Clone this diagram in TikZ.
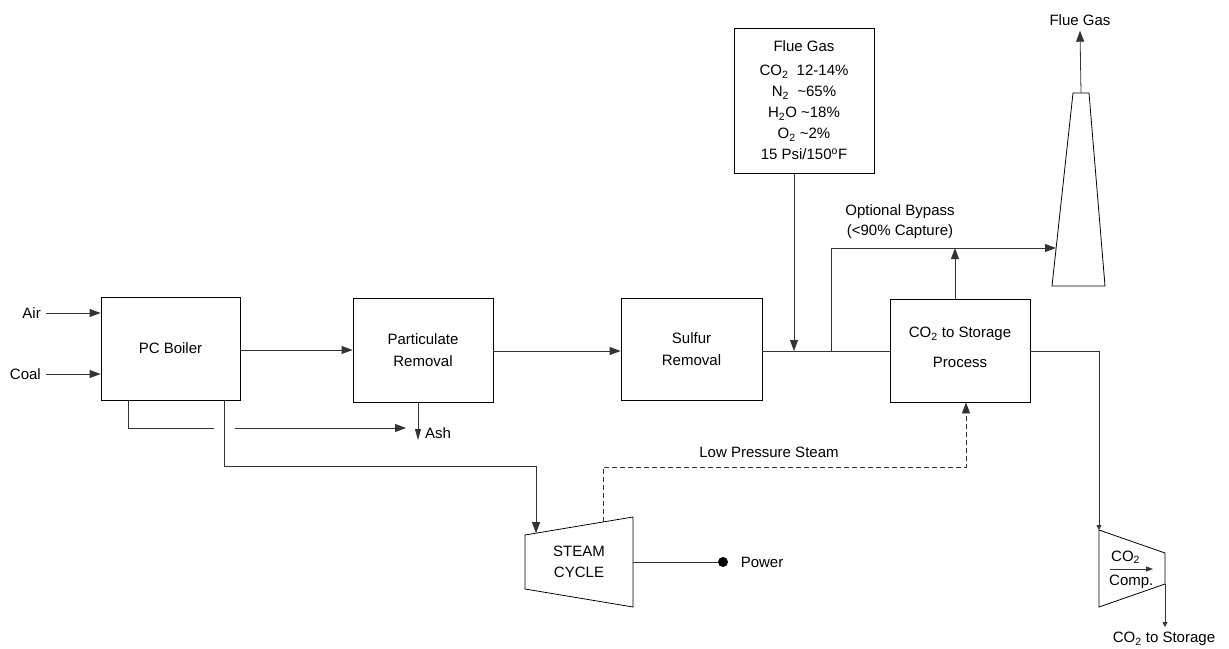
\documentclass[tikz,border=0pt]{standalone}
\usepackage{fontspec}
\setmainfont{Liberation Sans}
\usetikzlibrary{arrows.meta}
\begin{document}
\begin{tikzpicture}[x=1pt,y=-1pt,
  font=\fontsize{15}{20}\selectfont,
  box/.style={draw=black, line width=0.8pt, align=center, inner sep=0pt},
  ln/.style={line width=0.8pt, draw=black!80},
  arr/.style={ln, -{Triangle[length=11pt,width=8pt]}},
  sarr/.style={ln, -{Triangle[length=5pt,width=5pt]}},
  dsh/.style={ln, dashed, dash pattern=on 5pt off 3pt, -{Triangle[length=11pt,width=8pt]}},
  shp/.style={draw=black, line width=0.8pt},
  lbl/.style={inner sep=1pt, align=center}]
\useasboundingbox (0,0) rectangle (1229,648);

% boxes
\node[box, minimum width=139pt, minimum height=103pt] (boiler) at (170.5,348.5) {PC Boiler};
\node[box, minimum width=140pt, minimum height=104pt, font=\fontsize{15}{22}\selectfont] (part) at (423,350) {Particulate\\Removal};
\node[box, minimum width=141pt, minimum height=102pt, font=\fontsize{15}{22}\selectfont] (sulfur) at (691.5,349) {Sulfur\\Removal};
\node[box, minimum width=140pt, minimum height=103pt, font=\fontsize{15}{33}\selectfont, text depth=6pt] (co2) at (960,350.5) {CO\textsubscript{2} to Storage\\[-3pt]Process};
\node[box, minimum width=140pt, minimum height=145pt, font=\fontsize{15}{21}\selectfont] (flue) at (804,100.5)
  {Flue Gas\\[3pt]CO\textsubscript{2}\ \ 12-14\%\\N\textsubscript{2}\ \ \textasciitilde65\%\\H\textsubscript{2}O \textasciitilde18\%\\O\textsubscript{2} \textasciitilde2\%\\15 Psi/150\textsuperscript{o}F};

% stack
\coordinate (stBL) at (1052,286);
\coordinate (stTL) at (1073,93);
\coordinate (stTR) at (1089,93);
\coordinate (stBR) at (1105,286);
\coordinate (stTop) at (1081,93);
\coordinate (stIn) at (1056,248);
\draw[shp] (stBL) -- (stTL) -- (stTR) -- (stBR) -- cycle;
\node[lbl] (fluetop) at (1080,20) {Flue Gas};
\draw[arr] (stTop) -- ([yshift=-4pt]fluetop.south);

% steam cycle
\coordinate (scTL) at (525,535);
\coordinate (scTR) at (633,517);
\coordinate (scBR) at (633,607);
\coordinate (scBL) at (525,589);
\draw[shp] (scTL) -- (scTR) -- (scBR) -- (scBL) -- cycle;
\node[lbl, font=\fontsize{15}{21}\selectfont] (steam) at (579,561.5) {STEAM\\CYCLE};
\coordinate (scIn) at (536,533.2);
\coordinate (scOut) at (603,522);
\coordinate (scPow) at (633,562);

% compressor
\coordinate (cTL) at (1099,530);
\coordinate (cTR) at (1165,553);
\coordinate (cBR) at (1165,584);
\coordinate (cBL) at (1099,607);
\draw[shp] (cTL) -- (cTR) -- (cBR) -- (cBL) -- cycle;
\node[lbl, anchor=west] (compco2) at (1110,557) {CO\textsubscript{2}};
\node[lbl, anchor=west] (comptxt) at (1108,582) {Comp.};
\coordinate (cArrA) at (1110,569);
\coordinate (cArrB) at (1153,569);
\draw[ln, -{Triangle[length=7pt,width=5pt]}] (cArrA) -- (cArrB);
\node[lbl] (storage) at (1164,639) {CO\textsubscript{2} to Storage};
\coordinate (cOutEnd) at (1165,627);

% inputs
\node[lbl, anchor=east] (air) at (42,313) {Air};
\node[lbl, anchor=east] (coal) at (42,374) {Coal};
\draw[arr] ([xshift=4pt]air.east) -- (air.east -| boiler.west);
\draw[arr] ([xshift=4pt]coal.east) -- (coal.east -| boiler.west);

% main flow
\draw[arr] (boiler.east |- part.west) -- (part.west);
\draw[arr] (part.east |- 0,351) -- (sulfur.west |- 0,351);
\draw[ln] (sulfur.east |- 0,351) -- (co2.west |- 0,351);
\draw[arr] ([xshift=-10pt]flue.south) -- ([xshift=-10pt]flue.south |- 0,351);

% bypass
\coordinate (bpBot) at (831,351);
\coordinate (bpTop) at (831,248);
\draw[arr] (bpBot) -- (bpTop) -- (stIn);
\draw[arr] ([xshift=-5pt]co2.north) -- ([xshift=-5pt]co2.north |- bpTop);
\node[lbl, font=\fontsize{15}{20}\selectfont] (bptxt) at (900,222) {Optional Bypass\\(<90\% Capture)};

% CO2 to compressor
\coordinate (cRight) at (1099,351);
\draw[sarr] (co2.east |- cRight) -- (cRight) -- (cTL);
\draw[sarr] (cBR) -- (cOutEnd);

% ash
\coordinate (bAshA) at (128,400);
\coordinate (bAshB) at (128,428);
\coordinate (bAshC) at (214,428);
\coordinate (bAshD) at (235,428);
\coordinate (bAshE) at (406,428);
\draw[ln] (bAshA) -- (bAshB) -- (bAshC);
\draw[arr] (bAshD) -- (bAshE);
\coordinate (pAshA) at (418,402);
\coordinate (pAshB) at (418,440);
\draw[ln, -{Triangle[length=11pt,width=6pt]}] (pAshA) -- (pAshB);
\node[lbl, anchor=west] (ash) at (424,433) {Ash};

% steam to steam cycle
\coordinate (bStA) at (224,400);
\coordinate (bStB) at (224,466);
\coordinate (bStC) at (536,466);
\draw[arr] (bStA) -- (bStB) -- (bStC) -- (scIn);

% low pressure steam
\coordinate (lpA) at (603,467);
\coordinate (lpB) at (966,467);
\draw[dsh] (scOut) -- (lpA) -- (lpB) -- (lpB |- co2.south);
\node[lbl] (lptxt) at (769,452) {Low Pressure Steam};

% power
\coordinate (pwDot) at (723,562);
\draw[ln] (scPow) -- (pwDot);
\fill[black] (pwDot) circle (5pt);
\node[lbl] (power) at (762,562) {Power};
\end{tikzpicture}
\end{document}
